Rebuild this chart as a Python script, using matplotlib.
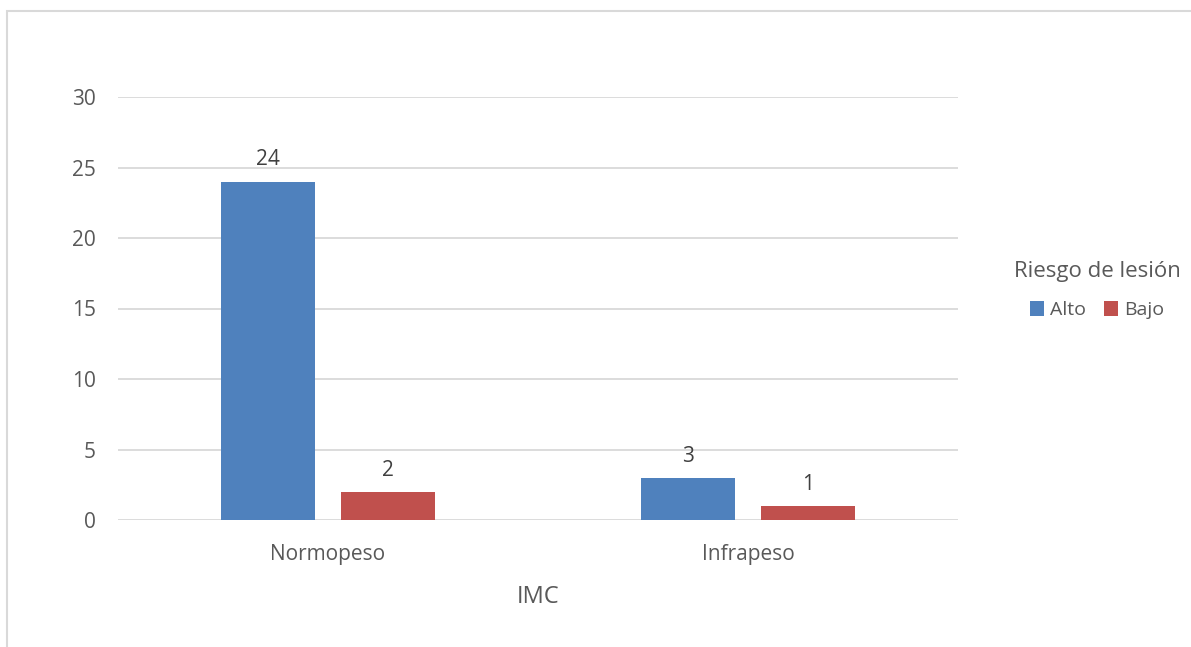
import matplotlib.pyplot as plt
import numpy as np
from matplotlib.patches import Rectangle

# datos
categorias = ['Normopeso', 'Infrapeso']
alto = [24, 3]
bajo = [2, 1]
series = ['Alto', 'Bajo']
colores = ['#4F81BD', '#C0504D']
yticks = [0, 5, 10, 15, 20, 25, 30]

plt.rcParams['font.family'] = ['Open Sans', 'DejaVu Sans']
gris = '#595959'

fig = plt.figure(figsize=(11.91, 6.47), dpi=100)
ax = fig.add_axes([118 / 1191, 1 - 520 / 647, 840 / 1191, 423 / 647])

# marco del gráfico
fig.patches.append(Rectangle((7 / 1191, -0.1), 1.2, 1 - 11 / 647 + 0.1,
                             transform=fig.transFigure, fill=False,
                             edgecolor='#D9D9D9', linewidth=1.5))

x = np.arange(len(categorias))
ancho = 0.224
desp = 0.143
b1 = ax.bar(x - desp, alto, ancho, color=colores[0], label=series[0], zorder=3)
b2 = ax.bar(x + desp, bajo, ancho, color=colores[1], label=series[1], zorder=3)

for barras in (b1, b2):
    for r in barras:
        ax.annotate(f'{int(r.get_height())}',
                    (r.get_x() + r.get_width() / 2, r.get_height()),
                    xytext=(0, 8), textcoords='offset points',
                    ha='center', va='bottom', fontsize=15, color='#404040')

ax.set_xlim(-0.5, 1.5)
ax.set_ylim(0, 30)
ax.set_yticks(yticks)
ax.set_xticks(x)
ax.set_xticklabels(categorias)
ax.tick_params(axis='both', length=0, labelsize=15, labelcolor=gris)
ax.tick_params(axis='x', pad=17)
ax.tick_params(axis='y', pad=16)
ax.grid(axis='y', color='#D9D9D9', linewidth=1.3, zorder=0)
for s in ax.spines.values():
    s.set_visible(False)

ax.set_xlabel('IMC', fontsize=17, color=gris, labelpad=15)

leg = fig.legend(handles=[b1, b2], labels=series, loc='center',
                 bbox_to_anchor=(1097 / 1191, 1 - 290 / 647), ncol=2,
                 frameon=False, title='Riesgo de lesión', fontsize=14,
                 title_fontsize=16, handlelength=0.75, handleheight=0.75,
                 handletextpad=0.3, columnspacing=0.9)
for t in leg.get_texts():
    t.set_color(gris)
leg.get_title().set_color(gris)
leg._legend_box.sep = 14

fig.savefig('out.png', dpi=100)
